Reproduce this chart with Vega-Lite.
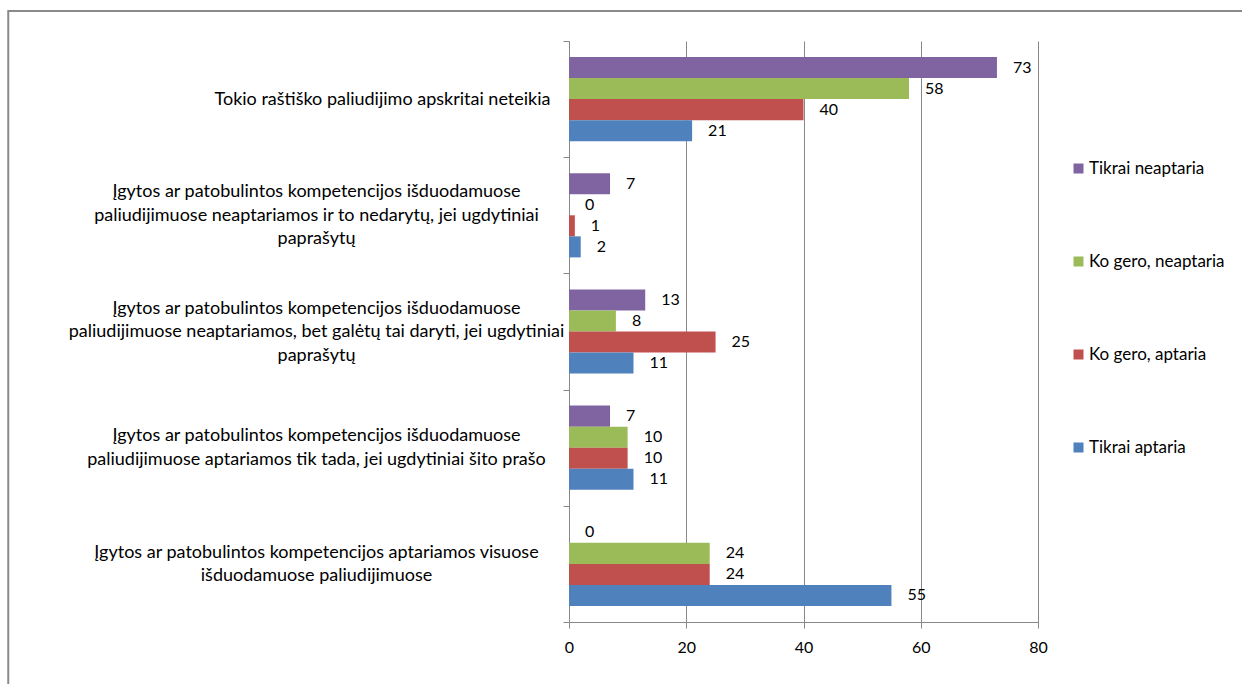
{
  "$schema": "https://vega.github.io/schema/vega-lite/v6.json",
  "width": 469,
  "height": 581,
  "autosize": {"type": "none"},
  "padding": {"left": 569, "top": 41, "right": 204, "bottom": 62},
  "background": "white",
  "config": {"view": {"stroke": null}, "font": "Lato", "text": {"font": "Lato"}},
  "layer": [
    {
      "data": {"values": [{"frame": "chart area"}]},
      "mark": {"type": "rect", "filled": false, "stroke": "#8a8a8a", "strokeWidth": 2, "clip": false},
      "encoding": {
        "x": {"datum": -95.65, "type": "quantitative", "scale": {"domain": [0, 80], "nice": false, "zero": false}, "axis": null},
        "x2": {"datum": 130},
        "y": {"datum": 1.0516, "type": "quantitative", "scale": {"domain": [0, 1], "nice": false, "zero": false}, "axis": null},
        "y2": {"datum": -0.2}
      }
    },
    {
      "data": {"values": [
        {"cat": "Tokio raštiško paliudijimo apskritai neteikia", "series": "Tikrai neaptaria", "value": 73},
        {"cat": "Tokio raštiško paliudijimo apskritai neteikia", "series": "Ko gero, neaptaria", "value": 58},
        {"cat": "Tokio raštiško paliudijimo apskritai neteikia", "series": "Ko gero, aptaria", "value": 40},
        {"cat": "Tokio raštiško paliudijimo apskritai neteikia", "series": "Tikrai aptaria", "value": 21},
        {"cat": "Įgytos ar patobulintos kompetencijos išduodamuose|paliudijimuose neaptariamos ir to nedarytų, jei ugdytiniai|paprašytų", "series": "Tikrai neaptaria", "value": 7},
        {"cat": "Įgytos ar patobulintos kompetencijos išduodamuose|paliudijimuose neaptariamos ir to nedarytų, jei ugdytiniai|paprašytų", "series": "Ko gero, neaptaria", "value": 0},
        {"cat": "Įgytos ar patobulintos kompetencijos išduodamuose|paliudijimuose neaptariamos ir to nedarytų, jei ugdytiniai|paprašytų", "series": "Ko gero, aptaria", "value": 1},
        {"cat": "Įgytos ar patobulintos kompetencijos išduodamuose|paliudijimuose neaptariamos ir to nedarytų, jei ugdytiniai|paprašytų", "series": "Tikrai aptaria", "value": 2},
        {"cat": "Įgytos ar patobulintos kompetencijos išduodamuose|paliudijimuose neaptariamos, bet galėtų tai daryti, jei ugdytiniai|paprašytų", "series": "Tikrai neaptaria", "value": 13},
        {"cat": "Įgytos ar patobulintos kompetencijos išduodamuose|paliudijimuose neaptariamos, bet galėtų tai daryti, jei ugdytiniai|paprašytų", "series": "Ko gero, neaptaria", "value": 8},
        {"cat": "Įgytos ar patobulintos kompetencijos išduodamuose|paliudijimuose neaptariamos, bet galėtų tai daryti, jei ugdytiniai|paprašytų", "series": "Ko gero, aptaria", "value": 25},
        {"cat": "Įgytos ar patobulintos kompetencijos išduodamuose|paliudijimuose neaptariamos, bet galėtų tai daryti, jei ugdytiniai|paprašytų", "series": "Tikrai aptaria", "value": 11},
        {"cat": "Įgytos ar patobulintos kompetencijos išduodamuose|paliudijimuose aptariamos tik tada, jei ugdytiniai šito prašo", "series": "Tikrai neaptaria", "value": 7},
        {"cat": "Įgytos ar patobulintos kompetencijos išduodamuose|paliudijimuose aptariamos tik tada, jei ugdytiniai šito prašo", "series": "Ko gero, neaptaria", "value": 10},
        {"cat": "Įgytos ar patobulintos kompetencijos išduodamuose|paliudijimuose aptariamos tik tada, jei ugdytiniai šito prašo", "series": "Ko gero, aptaria", "value": 10},
        {"cat": "Įgytos ar patobulintos kompetencijos išduodamuose|paliudijimuose aptariamos tik tada, jei ugdytiniai šito prašo", "series": "Tikrai aptaria", "value": 11},
        {"cat": "Įgytos ar patobulintos kompetencijos aptariamos visuose|išduodamuose paliudijimuose", "series": "Tikrai neaptaria", "value": 0},
        {"cat": "Įgytos ar patobulintos kompetencijos aptariamos visuose|išduodamuose paliudijimuose", "series": "Ko gero, neaptaria", "value": 24},
        {"cat": "Įgytos ar patobulintos kompetencijos aptariamos visuose|išduodamuose paliudijimuose", "series": "Ko gero, aptaria", "value": 24},
        {"cat": "Įgytos ar patobulintos kompetencijos aptariamos visuose|išduodamuose paliudijimuose", "series": "Tikrai aptaria", "value": 55}
      ]},
      "encoding": {
        "y": {
          "field": "cat", "type": "nominal", "sort": null,
          "scale": {"paddingInner": 0, "paddingOuter": 0},
          "axis": {
            "title": null, "tickBand": "extent", "grid": false,
            "domainColor": "#888888", "tickColor": "#888888", "tickSize": 6,
            "labelExpr": "isString(datum.value) ? split(datum.value, '|') : ''",
            "labelFont": "Lato", "labelFontSize": 18, "labelColor": "#000000",
            "labelLineHeight": 23.5, "labelLimit": 0, "labelBaseline": "middle",
            "labelAlign": {"condition": {"test": "datum.value === 'Tokio raštiško paliudijimo apskritai neteikia'", "value": "right"}, "value": "center"},
            "labelPadding": {"condition": {"test": "datum.value === 'Tokio raštiško paliudijimo apskritai neteikia'", "value": 13}, "value": 247},
            "labelOffset": {"condition": [
              {"test": "isString(datum.value) && length(split(datum.value, '|')) == 3", "value": -23.5},
              {"test": "isString(datum.value) && length(split(datum.value, '|')) == 2", "value": -11.75}
            ], "value": 0}
          }
        },
        "yOffset": {
          "field": "series", "type": "nominal",
          "sort": ["Tikrai neaptaria", "Ko gero, neaptaria", "Ko gero, aptaria", "Tikrai aptaria"],
          "scale": {"paddingInner": 0, "paddingOuter": 0.76}
        },
        "x": {
          "field": "value", "type": "quantitative",
          "scale": {"domain": [0, 80], "nice": false},
          "axis": {
            "title": null, "values": [0, 20, 40, 60, 80], "grid": true,
            "gridColor": "#888888", "gridOpacity": 1, "domainColor": "#888888", "tickColor": "#888888",
            "tickSize": 6, "labelPadding": 11, "labelFont": "Lato", "labelFontSize": 16,
            "labelColor": "#000000", "labelFlush": false
          }
        }
      },
      "layer": [
        {
          "mark": {"type": "bar"},
          "encoding": {
            "color": {
              "field": "series", "type": "nominal",
              "scale": {"domain": ["Tikrai neaptaria", "Ko gero, neaptaria", "Ko gero, aptaria", "Tikrai aptaria"], "range": ["#8064A2", "#9BBB59", "#C0504D", "#4F81BD"]},
              "legend": {
                "title": null, "orient": "none", "legendX": 501, "legendY": 119,
                "symbolType": "square", "symbolSize": 100, "symbolStrokeWidth": 0,
                "labelFont": "Lato", "labelFontSize": 17, "labelColor": "#000000",
                "rowPadding": 75, "labelOffset": 2
              }
            }
          }
        },
        {
          "mark": {"type": "text", "align": "left", "baseline": "middle", "dx": 16, "fontSize": 16, "font": "Lato", "color": "#000000"},
          "encoding": {"text": {"field": "value", "type": "quantitative"}}
        }
      ]
    }
  ],
  "resolve": {"scale": {"x": "independent", "y": "independent"}}
}
